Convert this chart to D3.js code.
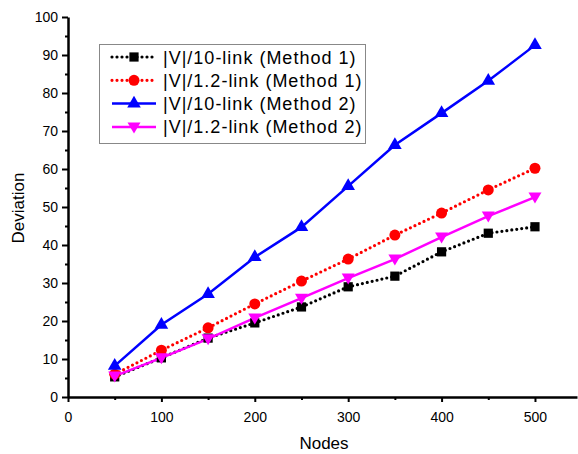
<!DOCTYPE html>
<html>
<head>
<meta charset="utf-8">
<style>
  body { margin: 0; background: #fff; }
  text { font-family: "Liberation Sans", Arial, sans-serif; fill: #000; }
</style>
</head>
<body>
<div id="chart"></div>
<script src="https://d3js.org/d3.v7.min.js"></script>
<script>
var nodes = [50, 100, 150, 200, 250, 300, 350, 400, 450, 500];
var m1Tenth = [5.3, 10.3, 15.5, 19.5, 23.7, 29.0, 31.8, 38.2, 43.1, 44.8];
var m1Fifth = [6.0, 12.3, 18.2, 24.5, 30.5, 36.3, 42.6, 48.4, 54.5, 60.2];
var m2Tenth = [8.2, 19.0, 27.1, 36.8, 44.7, 55.5, 66.3, 74.7, 83.2, 92.6];
var m2Fifth = [5.5, 10.3, 15.3, 20.8, 26.0, 31.3, 36.3, 42.1, 47.6, 52.6];
var seriesNames = ["|V|/10-link (Method 1)", "|V|/1.2-link (Method 1)", "|V|/10-link (Method 2)", "|V|/1.2-link (Method 2)"];
var xTicks = [0, 100, 200, 300, 400, 500];
var yTicks = [0, 10, 20, 30, 40, 50, 60, 70, 80, 90, 100];

var series = [
  { name: seriesNames[0], values: m1Tenth, color: "#000000", dash: "0,5", marker: "square" },
  { name: seriesNames[1], values: m1Fifth, color: "#ff0000", dash: "0,5", marker: "circle" },
  { name: seriesNames[2], values: m2Tenth, color: "#0000ff", dash: null, marker: "triangle" },
  { name: seriesNames[3], values: m2Fifth, color: "#ff00ff", dash: null, marker: "triangleDown" }
];

var W = 578, H = 454;
var mLeft = 68, mTop = 17, mRight = 577, mBottom = 397;

var svg = d3.select("#chart").append("svg")
    .attr("width", W).attr("height", H);

var x = d3.scaleLinear().domain([0, 545]).range([mLeft, mRight]);
var y = d3.scaleLinear().domain([0, 100]).range([mBottom, mTop]);

function markerPath(type) {
    if (type === "square") return d3.symbol(d3.symbolSquare, 85)();
    if (type === "circle") return d3.symbol(d3.symbolCircle, 95)();
    if (type === "triangle") return d3.symbol(d3.symbolTriangle, 80)();
    return "M-6.5,-4.5L6.5,-4.5L0,6.5Z";
}

// axes
svg.append("g")
    .attr("transform", "translate(0," + mBottom + ")")
    .call(d3.axisBottom(x).tickValues(xTicks).tickSize(5).tickSizeOuter(0).tickPadding(10));
svg.append("g")
    .attr("transform", "translate(0," + mBottom + ")")
    .call(d3.axisBottom(x).tickValues([50, 150, 250, 350, 450]).tickSize(3).tickFormat(""))
    .select(".domain").remove();

svg.append("g")
    .attr("transform", "translate(" + mLeft + ",0)")
    .call(d3.axisLeft(y).tickValues(yTicks).tickSize(6).tickSizeOuter(0).tickPadding(4));
svg.append("g")
    .attr("transform", "translate(" + mLeft + ",0)")
    .call(d3.axisLeft(y).tickValues(d3.range(5, 100, 10)).tickSize(3).tickFormat(""))
    .select(".domain").remove();

svg.selectAll(".domain").attr("stroke", "#000").attr("stroke-width", 2.5);
svg.selectAll(".tick line").attr("stroke", "#000").attr("stroke-width", 2);
svg.selectAll(".tick text")
    .style("font-family", "'Liberation Sans', Arial, sans-serif")
    .style("font-size", "14px").attr("fill", "#000");

svg.append("text")
    .attr("x", 324).attr("y", 449)
    .attr("text-anchor", "middle")
    .style("font-size", "17px")
    .text("Nodes");

svg.append("text")
    .attr("transform", "translate(24,208) rotate(-90)")
    .attr("text-anchor", "middle")
    .style("font-size", "17px")
    .text("Deviation");

// series
var line = d3.line()
    .x(function(d, i) { return x(nodes[i]); })
    .y(function(d) { return y(d); });

series.forEach(function(s) {
    svg.append("path")
        .attr("d", line(s.values))
        .attr("fill", "none")
        .attr("stroke", s.color)
        .attr("stroke-width", s.dash ? 3.2 : 2.5)
        .attr("stroke-linecap", s.dash ? "round" : "butt")
        .attr("stroke-dasharray", s.dash);
});

series.forEach(function(s) {
    svg.selectAll(null)
        .data(s.values)
        .enter()
        .append("path")
        .attr("d", markerPath(s.marker))
        .attr("transform", function(d, i) { return "translate(" + x(nodes[i]) + "," + y(d) + ")"; })
        .attr("fill", s.color);
});

// legend
var legend = svg.append("g");
legend.append("rect")
    .attr("x", 99.5).attr("y", 44.5)
    .attr("width", 266).attr("height", 99)
    .attr("fill", "#fff")
    .attr("stroke", "#888").attr("stroke-width", 1);

series.forEach(function(s, i) {
    var ly = 57 + i * 23.3;
    legend.append("line")
        .attr("x1", 112).attr("x2", 156)
        .attr("y1", ly).attr("y2", ly)
        .attr("stroke", s.color)
        .attr("stroke-width", s.dash ? 3.2 : 2.5)
        .attr("stroke-linecap", s.dash ? "round" : "butt")
        .attr("stroke-dasharray", s.dash);
    legend.append("path")
        .attr("d", markerPath(s.marker))
        .attr("transform", "translate(134," + ly + ")")
        .attr("fill", s.color);
    legend.append("text")
        .attr("x", 163).attr("y", ly + 6.5)
        .style("font-size", "18px")
        .style("letter-spacing", "1px")
        .text(s.name);
});
</script>
</body>
</html>
